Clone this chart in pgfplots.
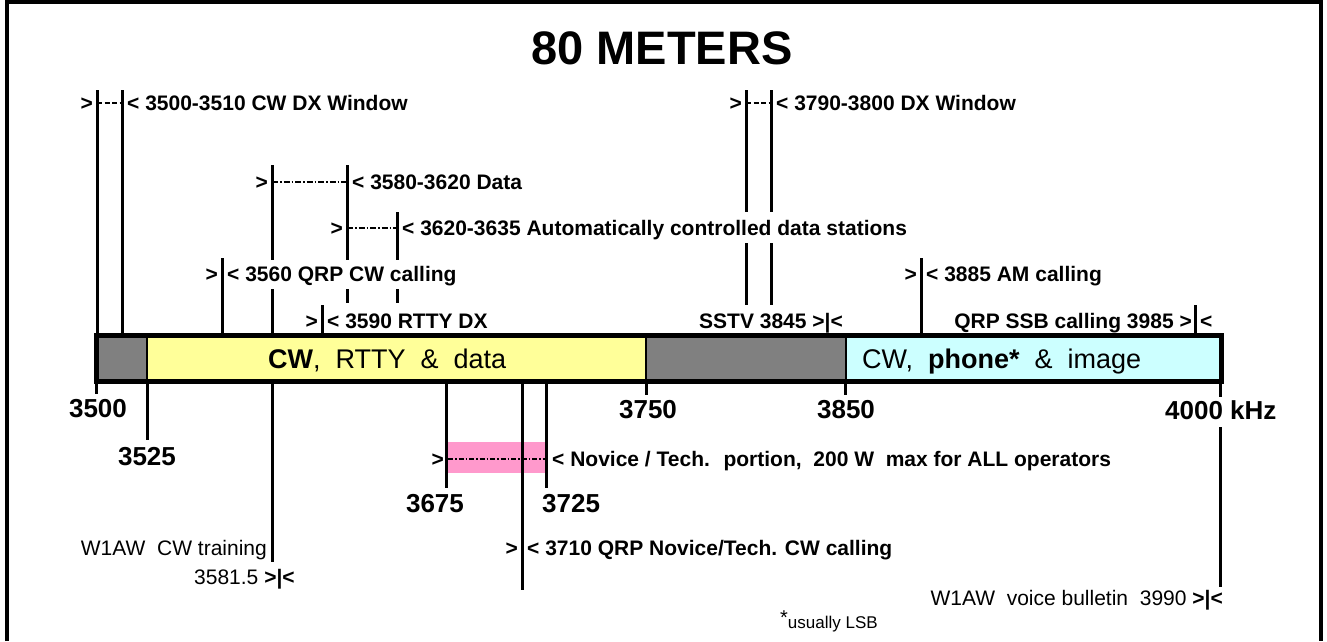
\documentclass[border=0pt]{standalone}
\usepackage{fontspec}
\setmainfont{Liberation Sans}
\usepackage{pgfplots}
\pgfplotsset{compat=1.18}
\definecolor{bargray}{HTML}{808080}
\definecolor{baryellow}{HTML}{FFFF99}
\definecolor{barcyan}{HTML}{CCFFFF}
\definecolor{novpink}{HTML}{FF99CC}
\tikzset{
  lbl/.style={font=\fontsize{21}{25}\selectfont\bfseries, inner sep=0pt},
  tk/.style={font=\fontsize{26}{30}\selectfont\bfseries, inner sep=0pt},
  reg/.style={font=\fontsize{21}{25}\selectfont, inner sep=0pt},
  bartxt/.style={font=\fontsize{27}{31}\selectfont, inner sep=0pt},
}
\begin{document}
\begin{tikzpicture}
\begin{axis}[name=ax, x=1pt, y=1pt, xmin=0, xmax=1327, ymin=0, ymax=641,
  y dir=reverse, hide axis, clip=false, unbounded coords=jump]
% frame
\addplot[black, line width=4pt, line join=miter] coordinates {(7,641) (7,2) (1320.5,2) (1320.5,641)};
% band segments
\addplot[draw=none, fill=bargray] coordinates {(96.5,335.5) (147,335.5) (147,381.5) (96.5,381.5)} --cycle;
\addplot[draw=none, fill=baryellow] coordinates {(147,335.5) (646,335.5) (646,381.5) (147,381.5)} --cycle;
\addplot[draw=none, fill=bargray] coordinates {(646,335.5) (845.5,335.5) (845.5,381.5) (646,381.5)} --cycle;
\addplot[draw=none, fill=barcyan] coordinates {(845.5,335.5) (1221,335.5) (1221,381.5) (845.5,381.5)} --cycle;
\addplot[black, line width=2pt] coordinates {(147,335) (147,382) (nan,nan) (646,335) (646,382) (nan,nan) (845.5,335) (845.5,382)};
\addplot[black, line width=5pt, line join=miter] coordinates {(96.5,335.5) (1221,335.5) (1221,381.5) (96.5,381.5)} --cycle;
% pink novice band
\addplot[draw=none, fill=novpink] coordinates {(448,442) (546,442) (546,473) (448,473)} --cycle;
% vertical marker lines above the band
\addplot[black, line width=3pt] coordinates {
 (97,90) (97,335) (nan,nan)
 (122,90) (122,335) (nan,nan)
 (222,258) (222,335) (nan,nan)
 (272,165) (272,260) (nan,nan) (272,289) (272,335) (nan,nan)
 (347,165) (347,260) (nan,nan) (347,289) (347,303) (nan,nan)
 (397,212) (397,260) (nan,nan) (397,289) (397,303) (nan,nan)
 (322,305) (322,335) (nan,nan)
 (746,90) (746,212) (nan,nan) (746,243) (746,305) (nan,nan)
 (771,90) (771,212) (nan,nan) (771,243) (771,305) (nan,nan)
 (921,258) (921,335) (nan,nan)
 (1195,305) (1195,335)
};
% vertical lines below the band
\addplot[black, line width=3pt] coordinates {
 (96.5,382) (96.5,394) (nan,nan)
 (147,382) (147,440) (nan,nan)
 (272,382) (272,562) (nan,nan)
 (446,382) (446,488) (nan,nan)
 (522,382) (522,590) (nan,nan)
 (546,382) (546,488) (nan,nan)
 (646,382) (646,395) (nan,nan)
 (845.5,382) (845.5,395) (nan,nan)
 (1220,382) (1220,397) (nan,nan) (1220,427) (1220,587)
};
% dashed range lines
\addplot[black, line width=1.5pt, dash pattern=on 5pt off 2.5pt] coordinates {(97,103) (122,103) (nan,nan) (746,103) (771,103)};
\addplot[black, line width=1.5pt, dash pattern=on 6pt off 2pt on 1.5pt off 2pt] coordinates {(272,182) (347,182) (nan,nan) (347,228) (397,228)};
\addplot[black, line width=1.5pt, dash pattern=on 5pt off 2pt on 1.5pt off 2pt] coordinates {(448,459) (546,459)};
% title
\node[font=\fontsize{47}{52}\selectfont\bfseries, anchor=base, inner sep=0pt] at (axis cs:662,64) {80 METERS};
% row labels above band
\node[lbl, anchor=base east] at (axis cs:93,110.5) {>};
\node[lbl, anchor=base west] at (axis cs:127,110.5) {< 3500-3510 CW DX Window};
\node[lbl, anchor=base east] at (axis cs:742,110.5) {>};
\node[lbl, anchor=base west] at (axis cs:776,110.5) {< 3790-3800 DX Window};
\node[lbl, anchor=base east] at (axis cs:268,189.5) {>};
\node[lbl, anchor=base west] at (axis cs:352,189.5) {< 3580-3620 Data};
\node[lbl, anchor=base east] at (axis cs:343,235.5) {>};
\node[lbl, anchor=base west] at (axis cs:402,235.5) {< 3620-3635 Automatically controlled data stations};
\node[lbl, anchor=base east] at (axis cs:218,281) {>};
\node[lbl, anchor=base west] at (axis cs:227,281) {< 3560 QRP CW calling};
\node[lbl, anchor=base east] at (axis cs:917,281) {>};
\node[lbl, anchor=base west] at (axis cs:926,281) {< 3885 AM calling};
\node[lbl, anchor=base east] at (axis cs:318,328) {>};
\node[lbl, anchor=base west] at (axis cs:327,328) {< 3590 RTTY DX};
\node[lbl, anchor=base west] at (axis cs:699,328) {SSTV 3845 >|<};
\node[lbl, anchor=base east] at (axis cs:1192,328) {QRP SSB calling 3985 >};
\node[lbl, anchor=base west] at (axis cs:1200,328) {<};
% band texts
\node[bartxt, anchor=base west] at (axis cs:268,368) {\textbf{CW},~ RTTY~ \&~ data};
\node[bartxt, anchor=base west] at (axis cs:862,368) {CW,~ \textbf{phone*}~ \&~ image};
% frequency labels
\node[tk, anchor=base] at (axis cs:98,417) {3500};
\node[tk, anchor=base] at (axis cs:147,465) {3525};
\node[tk, anchor=base] at (axis cs:648,418) {3750};
\node[tk, anchor=base] at (axis cs:846,418) {3850};
\node[tk, anchor=base west] at (axis cs:1165,419) {4000 kHz};
\node[tk, anchor=base] at (axis cs:435,512) {3675};
\node[tk, anchor=base west] at (axis cs:542,512) {3725};
% below band labels
\node[lbl, anchor=base east] at (axis cs:444,466.5) {>};
\node[lbl, anchor=base west] at (axis cs:552,466.5) {< Novice / Tech.~ portion,~ 200 W~ max for ALL operators};
\node[lbl, anchor=base east] at (axis cs:518,555.5) {>};
\node[lbl, anchor=base west] at (axis cs:527,555.5) {< 3710 QRP Novice/Tech. CW calling};
\node[reg, anchor=base east] at (axis cs:267,555.5) {W1AW~ CW training};
\node[reg, anchor=base west] at (axis cs:194,584) {3581.5 \textbf{>|<}};
\node[reg, anchor=base east] at (axis cs:1223,605) {W1AW~ voice bulletin~ 3990 \textbf{>|<}};
\node[font=\fontsize{17}{20}\selectfont, anchor=base west, inner sep=0pt] at (axis cs:780,628) {\raisebox{4pt}{\fontsize{20}{20}\selectfont*}usually LSB};
\end{axis}
\pgfresetboundingbox
\path[use as bounding box] (ax.south west) rectangle (ax.north east);
\end{tikzpicture}
\end{document}
